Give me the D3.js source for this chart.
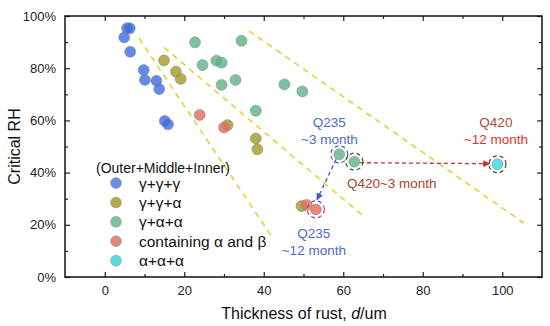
<!DOCTYPE html>
<html>
<head>
<meta charset="utf-8">
<script src="https://cdn.jsdelivr.net/npm/d3@7"></script>
<style>
  body { margin: 0; background: #fff; }
  text { font-family: "Liberation Sans", Arial, sans-serif; }
</style>
</head>
<body>
<div id="wrapper"></div>
<script>
// data: [thickness (um), critical RH (%)]
const gammaGammaGamma = [[5.6, 95.3], [6.3, 95.3], [4.9, 91.8], [6.4, 86.3], [9.8, 79.3],
  [10.1, 75.5], [13.0, 75.2], [13.7, 72.0], [15.1, 59.8], [15.9, 58.5]]
const gammaGammaAlpha = [[14.9, 83.0], [17.9, 78.7], [19.1, 75.9], [30.9, 58.2],
  [38.0, 53.1], [38.4, 48.9], [49.5, 27.2]]
const gammaAlphaAlpha = [[22.7, 89.9], [34.4, 90.5], [24.6, 81.2], [28.1, 82.9], [29.4, 82.1],
  [29.4, 73.6], [32.9, 75.5], [38.0, 63.7], [45.2, 73.8], [49.7, 71.1], [59.0, 47.0], [62.8, 44.2]]
const alphaBeta = [[23.9, 62.1], [30.0, 57.3], [50.8, 27.6], [53.1, 25.9]]
const alphaAlphaAlpha = [[98.8, 43.2]]

const groups = [
  {name: "γ+γ+γ", data: gammaGammaGamma, color: "#3f6ae6", legend: "#5a7fe0"},
  {name: "γ+γ+α", data: gammaGammaAlpha, color: "#a09a22", legend: "#a8a038"},
  {name: "γ+α+α", data: gammaAlphaAlpha, color: "#5db287", legend: "#74b893"},
  {name: "containing α and β", data: alphaBeta, color: "#e26a58", legend: "#e07a70"},
  {name: "α+α+α", data: alphaAlphaAlpha, color: "#35d8e2", legend: "#48d4dc"},
]

// yellow dashed guide lines
const guideLines = [
  [[8.6, 91.5], [42.1, 15.3]],
  [[14.9, 88.0], [64.7, 23.8]],
  [[36.3, 94.3], [105.4, 20.7]],
]

// highlighted points
const rings = [
  {p: [59.0, 47.0], color: "#4863cc"},
  {p: [62.8, 44.2], color: "#4d4a28"},
  {p: [98.8, 43.2], color: "#3f4a2a"},
  {p: [53.1, 25.9], color: "#8a44c8"},
]

const notes = [
  {lines: ["Q235", "~3 month"], at: [56.5, 59.5], colors: ["#4a6bc4", "#4a6bc4"]},
  {lines: ["Q420", "~12 month"], at: [98.4, 59.5], colors: ["#b04a34", "#e0342a"]},
  {lines: ["Q420~3 month"], at: [72.2, 35.9], colors: ["#a8432c"]},
  {lines: ["Q235", "~12 month"], at: [52.6, 16.7], colors: ["#4a6bc4", "#4a6bc4"]},
]

const arrows = [
  {from: [64.2, 43.8], to: [96.8, 43.4], color: "#c8302a"},
  {from: [58.2, 45.1], to: [53.4, 29.6], color: "#4a55d0"},
]

const xTicks = [0, 20, 40, 60, 80, 100]
const xMinor = [10, 30, 50, 70, 90]
const yTicks = [0, 20, 40, 60, 80, 100]
const yMinor = [10, 30, 50, 70, 90]

const width = 550
const height = 326
const margin = {top: 16, right: 8, bottom: 49, left: 65}

const x = d3.scaleLinear().domain([-10, 110]).range([margin.left, width - margin.right])
const y = d3.scaleLinear().domain([0, 100]).range([height - margin.bottom, margin.top])

const svg = d3.select("#wrapper").append("svg")
  .attr("width", width)
  .attr("height", height)

svg.append("defs").selectAll("marker")
  .data(arrows)
  .join("marker")
    .attr("id", (d, i) => "arrow" + i)
    .attr("viewBox", "0 0 10 10")
    .attr("refX", 9).attr("refY", 5)
    .attr("markerWidth", 7).attr("markerHeight", 7)
    .attr("markerUnits", "userSpaceOnUse")
    .attr("orient", "auto")
  .append("path")
    .attr("d", "M0,0L10,5L0,10z")
    .attr("fill", d => d.color)

// guide lines
svg.append("g").selectAll("line")
  .data(guideLines)
  .join("line")
    .attr("x1", d => x(d[0][0])).attr("y1", d => y(d[0][1]))
    .attr("x2", d => x(d[1][0])).attr("y2", d => y(d[1][1]))
    .attr("stroke", "#e2d23a")
    .attr("stroke-width", 1.6)
    .attr("stroke-dasharray", "6,5")

// arrows
svg.append("g").selectAll("line")
  .data(arrows)
  .join("line")
    .attr("x1", d => x(d.from[0])).attr("y1", d => y(d.from[1]))
    .attr("x2", d => x(d.to[0])).attr("y2", d => y(d.to[1]))
    .attr("stroke", d => d.color)
    .attr("stroke-width", 1.3)
    .attr("stroke-dasharray", "4,3")
    .attr("marker-end", (d, i) => `url(#arrow${i})`)

// points
groups.forEach(g => {
  svg.append("g").selectAll("circle")
    .data(g.data)
    .join("circle")
      .attr("cx", d => x(d[0]))
      .attr("cy", d => y(d[1]))
      .attr("r", 5.5)
      .attr("fill", g.color)
      .attr("fill-opacity", 0.8)
      .attr("stroke", "#8a8a8a")
      .attr("stroke-opacity", 0.55)
      .attr("stroke-width", 1)
})

svg.append("g").selectAll("circle")
  .data(rings)
  .join("circle")
    .attr("cx", d => x(d.p[0]))
    .attr("cy", d => y(d.p[1]))
    .attr("r", 8.5)
    .attr("fill", "none")
    .attr("stroke", d => d.color)
    .attr("stroke-width", 1.2)
    .attr("stroke-dasharray", "4,3")

// notes
notes.forEach(n => {
  const t = svg.append("text")
    .attr("text-anchor", "middle")
    .style("font-size", "13.5px")
  n.lines.forEach((l, i) => {
    t.append("tspan")
      .attr("x", x(n.at[0]))
      .attr("y", y(n.at[1]) + 5 + i * 17)
      .attr("fill", n.colors[i])
      .text(l)
  })
})

// legend
const legend = svg.append("g")
legend.append("text")
  .attr("x", 96).attr("y", 172.5)
  .style("font-size", "14px")
  .attr("fill", "#111")
  .text("(Outer+Middle+Inner)")
groups.forEach((g, i) => {
  const ly = 183 + i * 19.4
  legend.append("circle")
    .attr("cx", 116).attr("cy", ly).attr("r", 5.5)
    .attr("fill", g.legend)
    .attr("fill-opacity", 0.9)
    .attr("stroke", "#999")
    .attr("stroke-opacity", 0.5)
  legend.append("text")
    .attr("x", 139).attr("y", ly + 5.5)
    .style("font-size", "15.5px")
    .attr("fill", "#111")
    .text(g.name)
})

// axes
const axisStyle = sel => {
  sel.select(".domain").remove()
  sel.selectAll("line").attr("stroke", "#222").attr("stroke-width", 1.2)
  sel.selectAll("text").style("font-size", "13px").attr("fill", "#222")
}

svg.append("g")
  .attr("transform", `translate(0,${y(0)})`)
  .call(d3.axisBottom(x).tickValues(xTicks).tickSize(-5).tickPadding(9))
  .call(axisStyle)
svg.append("g")
  .attr("transform", `translate(0,${y(0)})`)
  .call(d3.axisBottom(x).tickValues(xMinor).tickSize(-3).tickFormat(""))
  .call(axisStyle)
svg.append("g")
  .attr("transform", `translate(0,${y(100)})`)
  .call(d3.axisTop(x).tickValues(xTicks).tickSize(-5).tickFormat(""))
  .call(axisStyle)
svg.append("g")
  .attr("transform", `translate(0,${y(100)})`)
  .call(d3.axisTop(x).tickValues(xMinor).tickSize(-3).tickFormat(""))
  .call(axisStyle)

svg.append("g")
  .attr("transform", `translate(${x(-10)},0)`)
  .call(d3.axisLeft(y).tickValues(yTicks).tickSize(-5).tickPadding(9).tickFormat(d => d + "%"))
  .call(axisStyle)
svg.append("g")
  .attr("transform", `translate(${x(-10)},0)`)
  .call(d3.axisLeft(y).tickValues(yMinor).tickSize(-3).tickFormat(""))
  .call(axisStyle)
svg.append("g")
  .attr("transform", `translate(${x(110)},0)`)
  .call(d3.axisRight(y).tickValues(yTicks).tickSize(-5).tickFormat(""))
  .call(axisStyle)
svg.append("g")
  .attr("transform", `translate(${x(110)},0)`)
  .call(d3.axisRight(y).tickValues(yMinor).tickSize(-3).tickFormat(""))
  .call(axisStyle)

svg.append("rect")
  .attr("x", x(-10)).attr("y", y(100))
  .attr("width", x(110) - x(-10))
  .attr("height", y(0) - y(100))
  .attr("fill", "none")
  .attr("stroke", "#111")
  .attr("stroke-width", 1.5)

svg.append("text")
  .attr("transform", `translate(20,${(y(0) + y(100)) / 2}) rotate(-90)`)
  .attr("text-anchor", "middle")
  .style("font-size", "16px")
  .attr("fill", "#111")
  .text("Critical RH")

const xl = svg.append("text")
  .attr("x", 304)
  .attr("y", 319)
  .attr("text-anchor", "middle")
  .style("font-size", "16px")
  .attr("fill", "#111")
xl.append("tspan").text("Thickness of rust, ")
xl.append("tspan").style("font-style", "italic").text("d")
xl.append("tspan").text("/um")
</script>
</body>
</html>
